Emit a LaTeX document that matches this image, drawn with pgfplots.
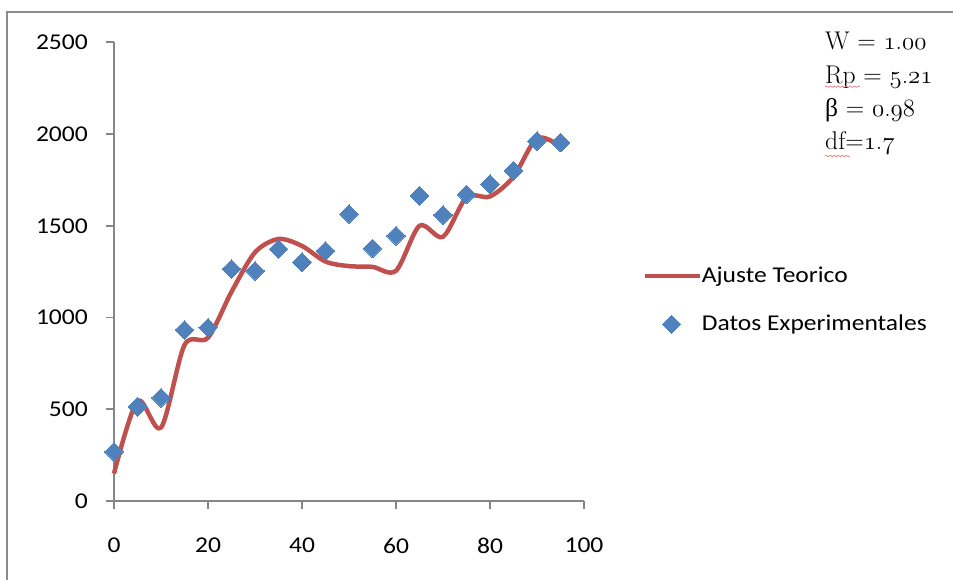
\documentclass[border=0pt]{standalone}
\usepackage{fontspec}
\setsansfont{Carlito}[FakeStretch=1.13]
\newfontfamily\greekserif{Liberation Serif}
\usepackage{pgfplots}
\pgfplotsset{compat=1.18}
\usetikzlibrary{decorations.pathmorphing}

\definecolor{fitred}{RGB}{192,80,77}
\definecolor{datablue}{RGB}{79,129,189}
\definecolor{axisgray}{RGB}{134,134,134}
\definecolor{framegray}{RGB}{140,140,140}
\definecolor{spellred}{RGB}{240,120,120}

\newcommand{\chartfont}{\fontsize{22.6}{27}\sffamily}
\newcommand{\notefont}{\fontsize{25.6}{33.5}\rmfamily}
% old-style figures from the Latin Modern math italic font
\newcommand{\osf}[1]{{\usefont{OML}{lmm}{m}{it}#1}}

\begin{document}
\begin{tikzpicture}[x=1pt,y=1pt]
\useasboundingbox (0,0) rectangle (953,579);
% outer chart frame (left and top edges)
\draw[framegray, line width=2pt] (6.5,-5) -- (6.5,567) -- (960,567);

\begin{axis}[
  at={(114pt,78pt)}, anchor=south west,
  scale only axis, width=470pt, height=458.7pt,
  xmin=0, xmax=100, ymin=0, ymax=2500,
  axis x line*=bottom, axis y line*=left,
  axis line style={-, draw=axisgray, line width=1.8pt},
  xtick={0,20,...,100}, ytick={0,500,...,2500},
  tick align=outside, major tick length=8pt,
  tick style={draw=axisgray, line width=1.8pt},
  minor tick num=0,
  tick label style={font=\chartfont, inner sep=0pt},
  yticklabel style={anchor=east, xshift=-18pt},
  xticklabel style={anchor=north, yshift=-29pt},
  /pgf/number format/assume math mode=true,
  /pgf/number format/1000 sep={},
  clip=false,
  legend cell align=left,
  legend style={
    at={(1.1236,0.438)}, anchor=west,
    draw=none, fill=none, inner sep=0pt,
    font=\chartfont,
    nodes={inner sep=0pt, text height=19pt, text depth=6pt},
    row sep=23pt, column sep=0pt,
  },
]
% theoretical fit (smoothed line)
\addplot[fitred, line width=4.5pt, smooth, line join=round,
  legend image code/.code={\draw[fitred, line width=4.5pt] (0pt,0pt) -- (55pt,0pt);}]
  coordinates {
  (0,150) (5,545) (10,400) (15,850) (20,890) (25,1140) (30,1355)
  (35,1428) (40,1390) (45,1305) (50,1280) (55,1276) (60,1255)
  (65,1500) (70,1440) (75,1655) (80,1660) (85,1767) (90,1977) (95,1932)
  };
\addlegendentry{Ajuste Teorico}
% experimental data
\addplot[only marks, mark=square*, mark size=6.6pt,
  mark options={rotate=45, fill=datablue, draw=datablue, line width=0pt},
  legend image code/.code={\draw[only marks, mark=square*, mark size=6.4pt,
    mark options={rotate=45, fill=datablue, draw=datablue, line width=0pt}]
    plot coordinates {(27pt,0pt)};}]
  coordinates {
  (0,268) (5,514) (10,563) (15,932) (20,945) (25,1265) (30,1254)
  (35,1373) (40,1301) (45,1363) (50,1564) (55,1377) (60,1446)
  (65,1664) (70,1559) (75,1671) (80,1726) (85,1800) (90,1962) (95,1953)
  };
\addlegendentry{Datos Experimentales}
\end{axis}

% fit parameters
\begin{scope}[every node/.style={anchor=base west, inner sep=0pt, font=\notefont}]
\node at (825,529.7) {W = \osf{1}.\osf{00}};
\node at (825,495.7) {Rp = \osf{5}.\osf{21}};
\node at (825,462.3) {{\greekserif β} = \osf{0}.\osf{98}};
\node at (825,429) {df=\osf{1}.\osf{7}};
\end{scope}
\draw[spellred, line width=0.7pt, decorate,
  decoration={snake, amplitude=0.7pt, segment length=4pt}] (825,492.3) -- (860,492.3);
\draw[spellred, line width=0.7pt, decorate,
  decoration={snake, amplitude=0.7pt, segment length=4pt}] (825,423) -- (850,423);
\end{tikzpicture}
\end{document}
